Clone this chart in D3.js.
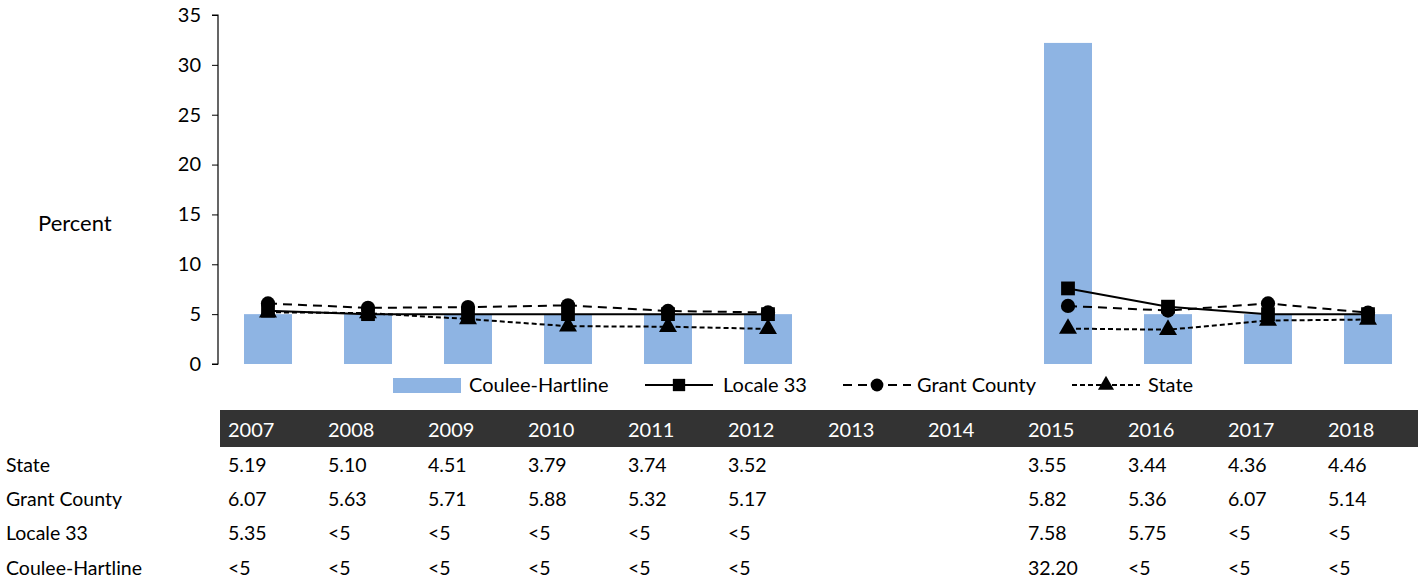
<!DOCTYPE html>
<html>
<head>
<meta charset="utf-8">
<script src="https://cdn.jsdelivr.net/npm/d3@7.9.0/dist/d3.min.js"></script>
<style>
  body { margin: 0; background: #fff; }
  svg { font-family: Lato, "Open Sans", sans-serif; }
</style>
</head>
<body>
<svg id="chart" width="1424" height="581"></svg>
<script>
const years = ['2007','2008','2009','2010','2011','2012','2013','2014','2015','2016','2017','2018'];
const state = ['5.19','5.10','4.51','3.79','3.74','3.52','','','3.55','3.44','4.36','4.46'];
const grantCounty = ['6.07','5.63','5.71','5.88','5.32','5.17','','','5.82','5.36','6.07','5.14'];
const locale33 = ['5.35','<5','<5','<5','<5','<5','','','7.58','5.75','<5','<5'];
const couleeHartline = ['<5','<5','<5','<5','<5','<5','','','32.20','<5','<5','<5'];
const yTicks = [0, 5, 10, 15, 20, 25, 30, 35];

// "<5" is drawn at 5, blank = no data
const toNum = s => s === '' ? null : (s === '<5' ? 5 : +s);

const svg = d3.select('#chart');
const plotLeft = 218, plotRight = 1418, plotTop = 15, plotBottom = 364;

const x = d3.scaleBand().domain(years).range([plotLeft, plotRight]);
const y = d3.scaleLinear().domain([0, 35]).range([plotBottom, plotTop]);

// bars
svg.append('g').selectAll('rect')
  .data(years.map((yr, i) => ({ yr, v: toNum(couleeHartline[i]) })).filter(d => d.v !== null))
  .enter().append('rect')
    .attr('x', d => x(d.yr) + x.bandwidth() / 2 - 24)
    .attr('width', 48)
    .attr('y', d => y(d.v))
    .attr('height', d => y(0) - y(d.v))
    .attr('fill', '#8eb4e3');

// y axis
const yAxis = svg.append('g')
  .attr('transform', `translate(${plotLeft},0)`)
  .call(d3.axisLeft(y).tickValues(yTicks).tickSize(6).tickPadding(11));
yAxis.select('.domain').attr('stroke', '#000').attr('stroke-width', 1.2).attr('d', `M-6,${plotTop}H0V${plotBottom}H-6`);
yAxis.selectAll('.tick line').attr('stroke', '#000');
yAxis.selectAll('.tick text').attr('font-size', 20).attr('fill', '#000').attr('font-family', 'Lato, sans-serif');
svg.append('text').attr('x', 38).attr('y', 231).attr('font-size', 22).text('Percent');

// series lines
const series = [
  { name: 'Locale 33', vals: locale33, dash: null, marker: 'square' },
  { name: 'Grant County', vals: grantCounty, dash: '9,6', marker: 'circle' },
  { name: 'State', vals: state, dash: '5,3', marker: 'triangle' }
];
const cx = yr => x(yr) + x.bandwidth() / 2;
const line = d3.line().defined(d => d.v !== null).x(d => cx(d.yr)).y(d => y(d.v));
const symbolOf = { square: d3.symbolSquare, circle: d3.symbolCircle, triangle: d3.symbolTriangle };
const sizeOf = { square: 190, circle: 160, triangle: 140 };

series.forEach(s => {
  const pts = years.map((yr, i) => ({ yr, v: toNum(s.vals[i]) }));
  svg.append('path')
    .attr('d', line(pts))
    .attr('fill', 'none')
    .attr('stroke', '#000')
    .attr('stroke-width', 2)
    .attr('stroke-dasharray', s.dash);
  svg.append('g').selectAll('path')
    .data(pts.filter(d => d.v !== null))
    .enter().append('path')
      .attr('d', d3.symbol().type(symbolOf[s.marker]).size(sizeOf[s.marker]))
      .attr('transform', d => `translate(${cx(d.yr)},${y(d.v)})`)
      .attr('fill', '#000');
});

// legend
const lg = svg.append('g').attr('font-size', 20);
lg.append('rect').attr('x', 393).attr('y', 378).attr('width', 68).attr('height', 15).attr('fill', '#8eb4e3');
lg.append('text').attr('x', 469).attr('y', 392).text('Coulee-Hartline');
const legendItems = [
  { s: series[0], x0: 645, tx: 723 },
  { s: series[1], x0: 843, tx: 917 },
  { s: series[2], x0: 1072, tx: 1148 }
];
legendItems.forEach(it => {
  lg.append('line').attr('x1', it.x0).attr('x2', it.x0 + 68).attr('y1', 385).attr('y2', 385)
    .attr('stroke', '#000').attr('stroke-width', 2).attr('stroke-dasharray', it.s.dash);
  lg.append('path')
    .attr('d', d3.symbol().type(symbolOf[it.s.marker]).size(sizeOf[it.s.marker] * 0.8))
    .attr('transform', `translate(${it.x0 + 34},385)`);
  lg.append('text').attr('x', it.tx).attr('y', 392).text(it.s.name);
});

// data table
svg.append('rect').attr('x', 220).attr('y', 410).attr('width', 1198).attr('height', 37).attr('fill', '#333333');
svg.append('g').selectAll('text')
  .data(years).enter().append('text')
    .attr('x', d => x(d) + 10)
    .attr('y', 437)
    .attr('font-size', 20)
    .attr('fill', '#fff')
    .text(d => d);

const rows = [
  { label: 'State', vals: state, y: 472 },
  { label: 'Grant County', vals: grantCounty, y: 506 },
  { label: 'Locale 33', vals: locale33, y: 540 },
  { label: 'Coulee-Hartline', vals: couleeHartline, y: 575 }
];
rows.forEach(r => {
  const g = svg.append('g').attr('font-size', 19.5);
  g.append('text').attr('x', 6).attr('y', r.y).text(r.label);
  g.selectAll('text.v').data(r.vals.map((v, i) => ({ v, yr: years[i] })))
    .enter().append('text')
      .attr('class', 'v')
      .attr('x', d => x(d.yr) + 10)
      .attr('y', r.y)
      .text(d => d.v);
});
</script>
</body>
</html>
